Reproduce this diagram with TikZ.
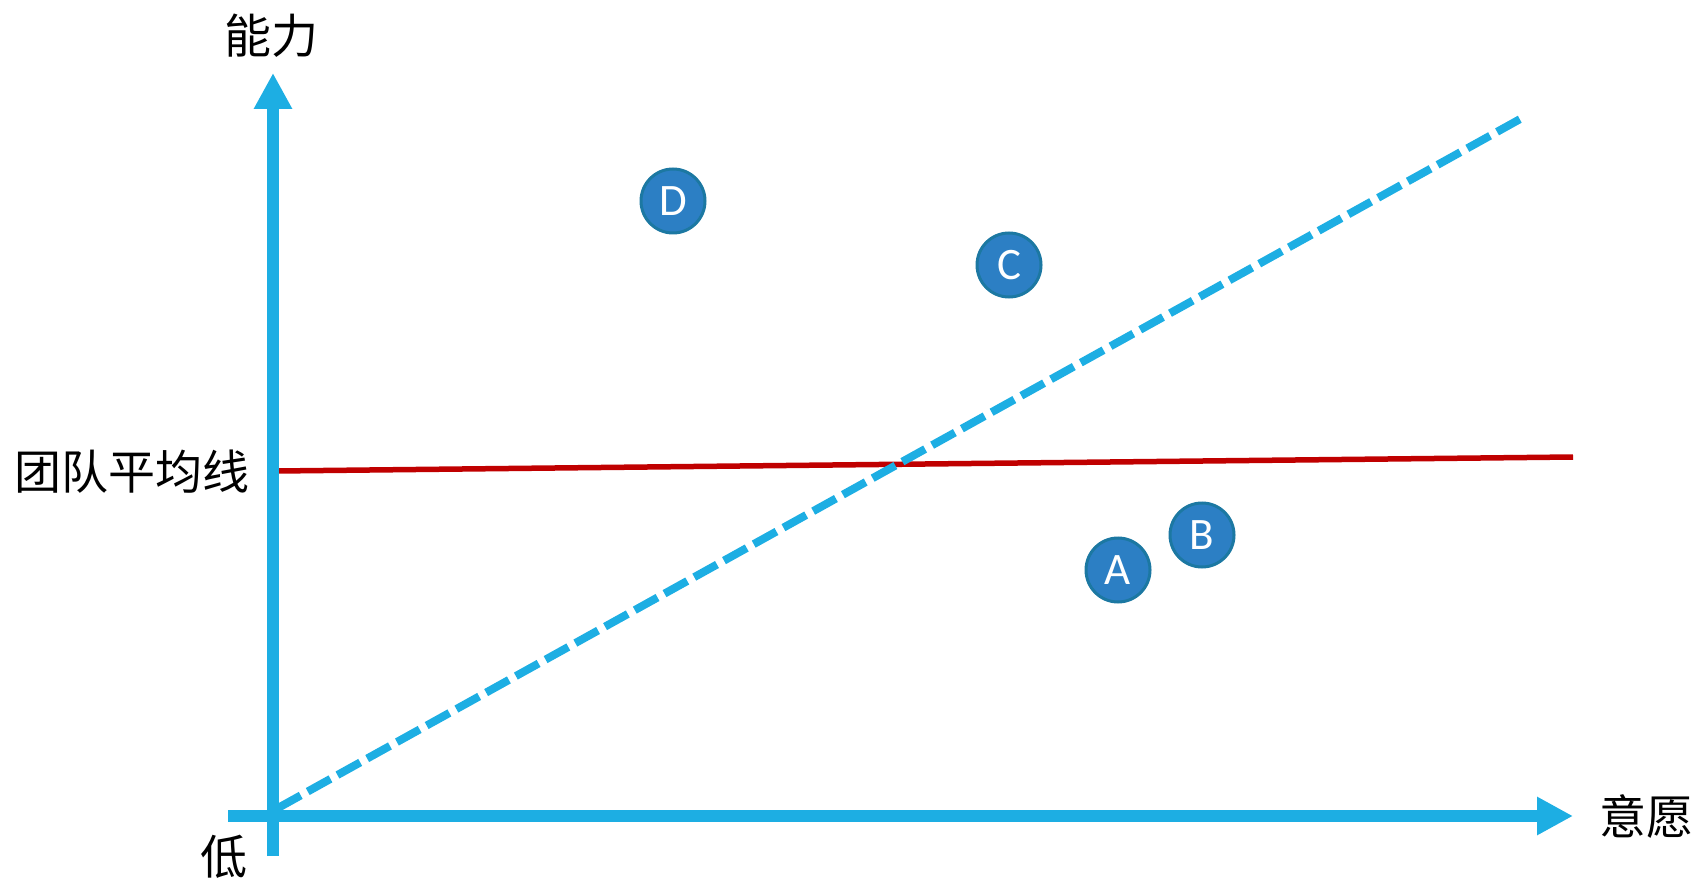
\documentclass[tikz,border=0pt]{standalone}
\usepackage{fontspec}
\newfontfamily\cjk{Noto Sans CJK SC}
\newfontfamily\lat{Carlito}
\usetikzlibrary{arrows.meta}
\definecolor{axisblue}{RGB}{29,174,227}
\definecolor{avgred}{RGB}{192,0,0}
\definecolor{ptfill}{RGB}{44,127,196}
\definecolor{ptdraw}{RGB}{28,120,162}
\tikzset{
  axis/.style={line width=12pt, draw=axisblue, -{Triangle[length=36pt,width=36pt]}},
  diag/.style={line width=8pt, draw=axisblue, dash pattern=on 26pt off 8pt},
  avg/.style={line width=5.5pt, draw=avgred},
  pt/.style={circle, fill=ptfill, draw=ptdraw, line width=3pt, minimum size=64pt, inner sep=0pt, text=white, font=\lat\fontsize{45}{47}\selectfont},
  lbl/.style={inner sep=0pt, font=\cjk\fontsize{47}{50}\selectfont, text=black}
}
\begin{document}
\begin{tikzpicture}[x=1pt,y=-1pt]
\useasboundingbox (0,0) rectangle (1697,882);
\coordinate (ybot) at (273,856);
\coordinate (ytop) at (273,73);
\coordinate (xl) at (228,816);
\coordinate (xr) at (1573,816);
\coordinate (d0) at (278,808);
\coordinate (d1) at (1522,118);
\coordinate (r0) at (277,471);
\coordinate (r1) at (1573,457);
\draw[avg] (r0) -- (r1);
\draw[diag] (d0) -- (d1);
\draw[axis] (ybot) -- (ytop);
\draw[axis] (xl) -- (xr);
\node[pt] (D) at (673,201) {D};
\node[pt] (C) at (1009,265) {C};
\node[pt] (A) at (1118,570) {A};
\node[pt] (B) at (1202,535) {B};
\node[lbl] (cap) at (271,36) {能力};
\node[lbl] (avgl) at (132,472) {团队平均线};
\node[lbl] (will) at (1646,817) {意愿};
\node[lbl] (low) at (224,857) {低};
\end{tikzpicture}
\end{document}
